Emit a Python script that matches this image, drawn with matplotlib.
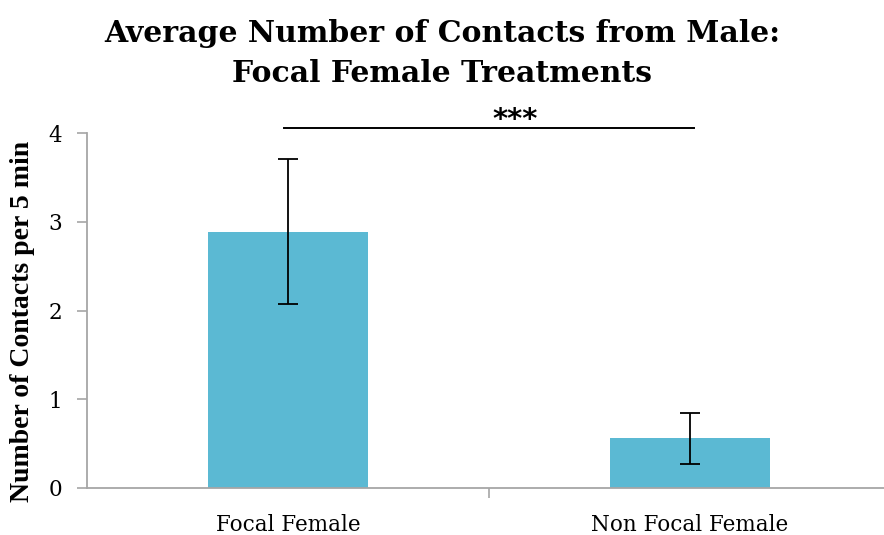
import matplotlib
matplotlib.use("Agg")
import matplotlib.pyplot as plt
from matplotlib.ticker import FixedLocator

categories = ["Focal Female", "Non Focal Female"]
means = [2.89, 0.56]
errors = [0.82, 0.29]
y_ticks = [0, 1, 2, 3, 4]
significance = "***"
sig_level = 4.06

W, H = 884, 535
fig = plt.figure(figsize=(W / 100, H / 100), dpi=100)
# axes box in pixel coordinates (left, right, bottom, top)
x0, x1, yb, yt = 87, 891, 488, 133
ax = fig.add_axes([x0 / W, 1 - yb / H, (x1 - x0) / W, (yb - yt) / H])

serif = "DejaVu Serif"
serif_bold_label = "Liberation Serif"
bar_color = "#5BB9D3"
axis_gray = "#A6A6A6"

xs = list(range(len(categories)))
ax.bar(xs, means, width=0.4, color=bar_color, zorder=2)
ax.errorbar(xs, means, yerr=errors, fmt="none", ecolor="black",
            elinewidth=1.3, capsize=7, capthick=1.3, zorder=3)

ax.set_xlim(-0.5, len(categories) - 0.5)
ax.set_ylim(0, 4)
ax.set_yticks(y_ticks)
ax.set_yticklabels([str(t) for t in y_ticks], fontfamily=serif, fontsize=15.5)
ax.set_xticks(xs)
ax.set_xticklabels(categories, fontfamily=serif, fontsize=15.5)
ax.tick_params(axis="x", which="major", length=0, pad=19)
ax.xaxis.set_minor_locator(FixedLocator([0.5]))
ax.tick_params(axis="x", which="minor", length=7, color=axis_gray, width=1.2)
ax.tick_params(axis="y", length=7, color=axis_gray, width=1.2, pad=11)

for side in ("top", "right"):
    ax.spines[side].set_visible(False)
for side in ("left", "bottom"):
    ax.spines[side].set_color(axis_gray)
    ax.spines[side].set_linewidth(1.3)

fig.text(23 / W, 1 - 321 / H, "Number of Contacts per 5 min",
         rotation=90, ha="center", va="center", fontfamily=serif_bold_label,
         fontweight="bold", fontsize=20)

# significance bracket between the two groups
ax.plot([-0.01, 1.01], [sig_level, sig_level], color="black", lw=1.4,
        clip_on=False)
ax.text(0.565, sig_level - 0.075, significance, ha="center", va="bottom",
        fontsize=21, fontfamily="DejaVu Sans", fontweight="semibold",
        clip_on=False, zorder=4)

title_lines = ["Average Number of Contacts from Male:", "Focal Female Treatments"]
for line, base in zip(title_lines, (42, 82)):
    fig.text(0.5, 1 - base / H, line, ha="center", va="baseline",
             fontfamily=serif, fontweight="bold", fontsize=21.5)

fig.savefig("out.png", dpi=100)
